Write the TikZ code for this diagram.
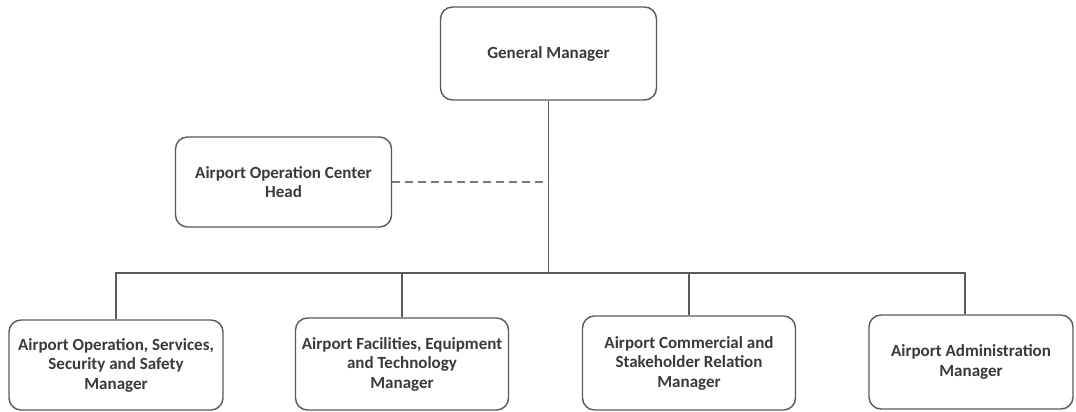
\documentclass[tikz,border=0pt]{standalone}
\usepackage{fontspec}
\setmainfont{Carlito}
\definecolor{linegray}{HTML}{5A5A5A}
\definecolor{txtgray}{HTML}{3A3A3A}
\definecolor{dashgray}{HTML}{7A7A7A}
\begin{document}
\begin{tikzpicture}[x=1pt,y=-1pt,
  box/.style={draw=linegray, line width=1.4pt, rounded corners=12pt, align=center,
    font=\fontsize{17}{19.5}\selectfont\bfseries, text=txtgray, inner sep=0pt},
  link/.style={draw=linegray, line width=1.3pt}]
\useasboundingbox (0,0) rectangle (1076,412);
\fill[white] (0,0) rectangle (1076,412);
\node[box, minimum width=216pt, minimum height=93pt] (gm) at (548.5,53.5) {General Manager};
\node[box, minimum width=216pt, minimum height=90pt] (aoc) at (283.5,182) {Airport Operation Center\\Head};
\node[box, minimum width=214pt, minimum height=90pt] (b1) at (116,365) {Airport Operation, Services,\\Security and Safety\\Manager};
\node[box, minimum width=213pt, minimum height=92pt] (b2) at (402,364) {Airport Facilities, Equipment\\and Technology\\Manager};
\node[box, minimum width=213pt, minimum height=94pt] (b3) at (689,363) {Airport Commercial and\\Stakeholder Relation\\Manager};
\node[box, minimum width=204pt, minimum height=94pt] (b4) at (971,362) {Airport Administration\\Manager};
\coordinate (j) at (548.5,273);
\draw[link] (gm.south) -- (j);
\draw[link] (b1.north) |- (j);
\draw[link] (b2.north) |- (j);
\draw[link] (b3.north) |- (j);
\draw[link] ([xshift=-6pt]b4.north) |- (j);
\draw[draw=dashgray, line width=1.5pt, dash pattern=on 8pt off 5pt] (aoc.east) -- (aoc.east -| j);
\end{tikzpicture}
\end{document}
